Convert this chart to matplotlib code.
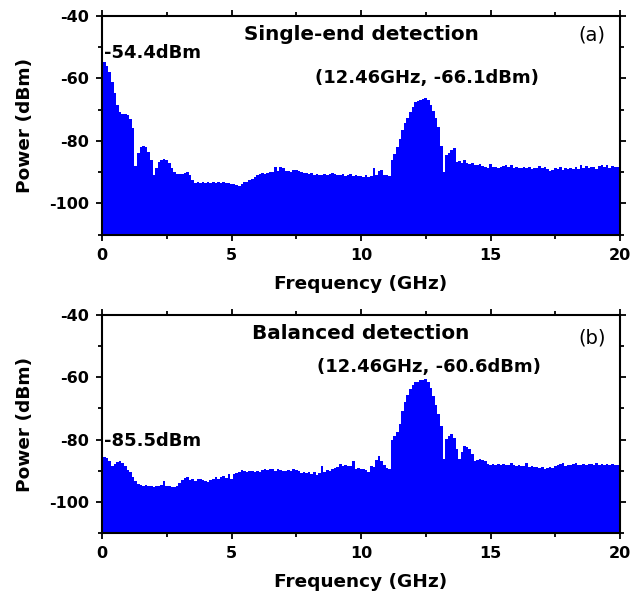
import numpy as np
import matplotlib
matplotlib.use("Agg")
import matplotlib.pyplot as plt
from matplotlib.ticker import MultipleLocator

# RF spectra, 0-20 GHz sampled every 0.1 GHz (dBm)
freq_ghz = np.linspace(0.0, 20.0, 201)

single_end_dbm = [
    -54.4, -54.8, -56.0, -57.8, -61.0, -64.5, -68.5, -70.8, -71.3, -71.4,
    -71.8, -73.0, -75.8, -88.0, -84.0, -82.0, -81.5, -81.8, -83.5, -86.0,
    -91.0, -88.5, -86.6, -86.0, -85.9, -86.2, -87.0, -88.5, -90.0, -90.6,
    -90.5, -90.7, -90.4, -89.8, -90.8, -92.5, -93.4, -93.0, -93.6, -93.1,
    -93.5, -93.0, -93.4, -93.2, -93.6, -93.0, -93.3, -93.1, -93.5, -93.4,
    -93.7, -93.9, -94.0, -94.3, -93.8, -93.2, -93.0, -92.6, -92.2, -91.5,
    -90.8, -90.5, -90.4, -90.6, -90.2, -90.0, -89.8, -88.3, -89.6, -88.4,
    -88.8, -89.5, -89.6, -89.8, -89.4, -89.2, -89.5, -89.9, -90.1, -90.3,
    -90.5, -90.4, -90.8, -90.7, -91.0, -90.9, -90.6, -91.0, -90.5, -90.3,
    -90.6, -90.8, -90.9, -90.6, -91.2, -91.0, -90.7, -91.3, -90.8, -91.3,
    -91.2, -91.5, -91.0, -91.6, -91.2, -88.7, -91.0, -89.6, -89.4, -91.0,
    -91.0, -91.1, -86.0, -84.2, -82.0, -79.5, -76.6, -74.3, -72.7, -70.8,
    -69.0, -67.6, -67.2, -66.9, -66.5, -66.1, -67.0, -68.6, -70.3, -72.5,
    -75.6, -81.5, -90.0, -84.5, -84.0, -83.0, -82.3, -86.8, -86.4, -87.0,
    -86.1, -87.0, -87.4, -87.2, -87.6, -87.8, -87.5, -88.0, -88.3, -88.7,
    -87.5, -88.2, -88.4, -88.6, -88.3, -87.9, -87.8, -88.2, -87.8, -88.6,
    -88.2, -88.5, -88.7, -88.4, -88.7, -88.3, -88.9, -88.6, -88.5, -88.0,
    -88.6, -88.4, -89.0, -89.5, -89.2, -88.6, -88.9, -88.4, -89.2, -88.6,
    -88.9, -88.5, -88.9, -88.4, -89.1, -87.8, -88.7, -88.0, -88.5, -88.2,
    -88.3, -88.9, -88.0, -87.7, -88.4, -87.6, -88.5, -88.0, -88.2, -88.3,
    -88.1,
]

balanced_dbm = [
    -85.5, -85.6, -86.0, -87.0, -88.6, -87.8, -87.3, -86.8, -87.6, -88.4,
    -89.6, -90.5, -92.0, -93.4, -94.2, -94.4, -94.7, -94.6, -95.0, -94.8,
    -95.2, -94.7, -94.9, -94.6, -93.2, -94.9, -94.9, -95.1, -95.2, -94.9,
    -93.8, -92.8, -92.3, -92.0, -92.8, -92.6, -93.2, -92.6, -92.5, -93.0,
    -93.4, -93.6, -93.0, -92.6, -92.1, -92.6, -92.0, -91.5, -92.4, -90.9,
    -92.6, -91.0, -90.8, -90.3, -89.8, -90.2, -90.3, -90.0, -90.2, -90.3,
    -90.0, -90.4, -89.8, -89.5, -89.6, -89.4, -89.5, -90.0, -89.4, -89.8,
    -89.9, -90.2, -89.6, -90.0, -89.3, -89.8, -90.2, -90.6, -90.3, -90.8,
    -90.4, -90.9, -90.5, -91.3, -90.6, -88.6, -90.4, -89.6, -90.2, -89.4,
    -89.0, -88.8, -87.7, -88.3, -88.0, -88.4, -88.6, -87.0, -89.4, -89.2,
    -89.4, -89.3, -89.6, -90.4, -88.3, -88.8, -86.5, -85.2, -87.0, -88.0,
    -89.2, -89.4, -80.0, -78.7, -77.6, -75.0, -70.8, -68.0, -65.6, -63.7,
    -62.5, -61.7, -61.5, -61.0, -60.8, -60.6, -61.5, -63.6, -66.0, -69.0,
    -71.8, -75.5, -86.1, -79.8, -78.7, -78.1, -79.5, -83.0, -86.1, -84.0,
    -82.2, -82.4, -83.0, -84.5, -86.8, -86.5, -86.1, -86.4, -86.7, -87.8,
    -88.0, -87.7, -88.0, -87.7, -88.1, -87.9, -88.0, -88.2, -87.5, -88.0,
    -88.3, -88.0, -88.4, -88.6, -87.4, -88.8, -88.4, -88.8, -88.9, -89.1,
    -88.8, -89.4, -89.0, -88.8, -89.0, -88.5, -88.2, -87.8, -87.6, -88.4,
    -88.2, -88.0, -87.8, -87.6, -88.2, -88.0, -87.8, -88.2, -87.7, -87.9,
    -88.1, -87.6, -88.0, -87.8, -88.2, -87.7, -88.0, -87.9, -88.0, -88.2,
    -88.0,
]

panel_titles = ["Single-end detection", "Balanced detection"]
panel_tags = ["(a)", "(b)"]
dc_level_dbm = [-54.4, -85.5]
peak_freq_ghz = [12.46, 12.46]
peak_dbm = [-66.1, -60.6]

y_floor = -110
y_top = -40
x_ticks = [0, 5, 10, 15, 20]
y_ticks = [-100, -80, -60, -40]

BLUE = "#0000ff"
FONT = "DejaVu Sans"
plt.rcParams["font.family"] = FONT
plt.rcParams["axes.unicode_minus"] = False

fig = plt.figure(figsize=(6.41, 5.93), dpi=100)
W, H = 641.0, 593.0
ax_left, ax_right = 102 / W, 620 / W
panel_px = [(16.0, 234.7), (314.7, 533.3)]

series = [single_end_dbm, balanced_dbm]
# text placement in data units: title y, peak label (x, y), dc label y, tag y
title_y = [-45.8, -46.0]
peak_label_xy = [(12.53, -60.0), (12.63, -56.8)]
dc_label_y = [-52.0, -80.4]
tag_y = [-46.1, -47.5]

for i, (top_px, bot_px) in enumerate(panel_px):
    ax = fig.add_axes([ax_left, 1 - bot_px / H, ax_right - ax_left,
                       (bot_px - top_px) / H])
    ax.fill_between(freq_ghz, series[i], y_floor, step="mid",
                    color=BLUE, linewidth=0, zorder=1)
    ax.set_xlim(0, 20)
    ax.set_ylim(y_floor, y_top)
    ax.set_xticks(x_ticks)
    ax.set_yticks(y_ticks)
    ax.xaxis.set_minor_locator(MultipleLocator(2.5))
    ax.yaxis.set_minor_locator(MultipleLocator(10))
    for sp in ax.spines.values():
        sp.set_linewidth(1.5)
    ax.tick_params(which="both", direction="out", top=True, right=True,
                   width=1.3, labelsize=11.5)
    ax.tick_params(which="major", length=4, pad=5.5)
    ax.tick_params(which="minor", length=3)
    for lab in ax.get_xticklabels() + ax.get_yticklabels():
        lab.set_fontweight("bold")

    ax.text(10.0, title_y[i], panel_titles[i], ha="center", va="center",
            fontsize=14.4, fontweight="bold")
    px, py = peak_label_xy[i]
    ax.text(px, py, f"({peak_freq_ghz[i]:.2f}GHz, {peak_dbm[i]:.1f}dBm)",
            ha="center", va="center", fontsize=13, fontweight="bold")
    ax.text(0.08, dc_label_y[i], f"{dc_level_dbm[i]:.1f}dBm",
            ha="left", va="center", fontsize=13, fontweight="bold")
    ax.text(18.92, tag_y[i], panel_tags[i], ha="center", va="center",
            fontsize=14)

    ycen = 1 - (top_px + bot_px) / 2 / H
    fig.text(25 / W, ycen, "Power (dBm)", rotation=90, ha="center",
             va="center", fontsize=13.3, fontweight="bold")
    fig.text((ax_left + ax_right) / 2, 1 - (bot_px + 49) / H,
             "Frequency (GHz)", ha="center", va="center",
             fontsize=13.3, fontweight="bold")

fig.savefig("out.png", dpi=100)
